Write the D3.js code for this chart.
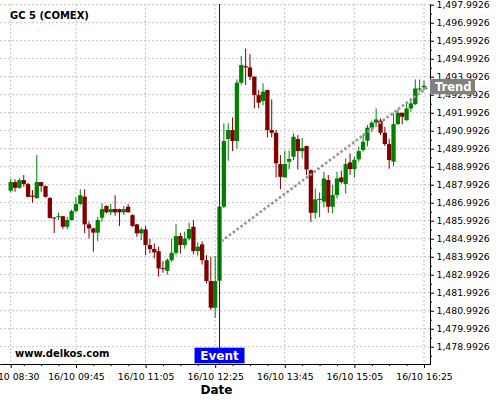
<!DOCTYPE html>
<html>
<head>
<meta charset="utf-8">
<script src="https://cdn.jsdelivr.net/npm/d3@7"></script>
<style>
  body { margin: 0; background: #fff; }
  svg { font-family: "DejaVu Sans", sans-serif; }
  .grid line { stroke: #c4c4c4; stroke-dasharray: 2,2; }
</style>
</head>
<body>
<div class="chart"></div>
<script>
//chart size
var widthSVG = 500;
var heightSVG = 400;
var plotLeft = 0, plotRight = 430, plotTop = 4, plotBottom = 364;

// 5 minute bars, first one at 08:30
var firstBar = "08:30";
var barMinutes = 5;
var opens = [
 1487.66,1488.14,1487.82,1488.25,1488.03,1487.39,1487.25,1488.14,1487.92,1487.25,
 1486.17,1486.20,1486.24,1485.66,1486.03,1486.53,1486.92,1487.33,1485.79,1485.57,
 1485.33,1486.16,1486.81,1486.46,1486.64,1486.64,1486.46,1486.77,1486.30,1485.79,
 1485.29,1485.51,1484.64,1484.42,1484.30,1483.36,1483.21,1483.80,1484.21,1485.14,
 1484.64,1485.00,1485.66,1484.30,1484.68,1483.80,1482.64,1481.16,1482.66,1486.77,
 1490.53,1491.03,1490.42,1493.66,1494.58,1494.51,1493.99,1492.97,1492.64,1493.25,
 1491.03,1490.88,1489.14,1488.40,1489.27,1489.55,1490.53,1489.86,1490.14,1488.80,
 1486.43,1487.14,1487.05,1488.25,1486.77,1487.42,1488.40,1488.03,1489.23,1488.86,
 1489.40,1489.92,1490.44,1491.16,1491.44,1491.55,1490.88,1490.25,1489.27,1491.36,
 1491.99,1491.58,1492.23,1492.47,1493.29,1493.40];
var highs = [
 1488.32,1488.29,1488.36,1488.53,1488.10,1487.70,1489.64,1488.14,1487.95,1487.32,
 1486.20,1486.45,1486.26,1486.21,1486.62,1487.29,1487.74,1487.74,1485.95,1485.60,
 1486.20,1486.96,1486.85,1486.92,1487.41,1486.66,1486.81,1486.92,1486.35,1485.82,
 1485.62,1485.70,1484.99,1484.73,1484.55,1483.75,1483.90,1485.00,1485.80,1485.32,
 1485.38,1485.88,1486.03,1484.79,1484.84,1484.08,1483.99,1484.03,1486.80,1491.40,
 1491.40,1491.73,1493.84,1495.14,1495.56,1495.25,1494.02,1493.25,1493.62,1493.27,
 1492.73,1491.03,1489.64,1489.88,1489.90,1490.85,1490.75,1490.60,1490.16,1488.84,
 1487.79,1487.57,1488.71,1488.53,1487.98,1488.71,1488.77,1489.45,1489.73,1489.55,
 1490.10,1490.84,1491.31,1491.55,1492.23,1491.68,1491.21,1490.55,1491.95,1492.18,
 1491.99,1492.55,1492.79,1493.84,1493.84,1493.77];
var lows = [
 1487.58,1487.60,1487.77,1487.88,1487.30,1487.00,1487.21,1487.60,1487.28,1486.12,
 1485.31,1486.03,1485.53,1485.51,1485.99,1486.45,1486.85,1485.30,1485.01,1484.27,
 1484.86,1485.93,1486.40,1486.31,1486.27,1485.70,1486.31,1486.45,1485.66,1485.10,
 1484.92,1484.08,1484.18,1483.90,1482.88,1483.10,1483.00,1483.70,1484.08,1484.17,
 1484.44,1484.90,1484.12,1484.05,1483.56,1482.51,1481.03,1480.60,1482.60,1486.70,
 1489.32,1489.86,1490.01,1493.55,1493.53,1493.80,1492.23,1492.23,1492.40,1490.62,
 1490.62,1488.40,1487.75,1488.38,1488.84,1489.36,1488.84,1489.45,1488.53,1485.92,
 1486.10,1486.18,1486.73,1486.43,1486.40,1487.23,1488.06,1487.51,1488.53,1488.40,
 1489.27,1489.82,1490.12,1490.92,1491.31,1490.75,1490.14,1488.88,1489.03,1491.31,
 1491.36,1491.53,1492.05,1492.42,1493.16,1493.25];
var closes = [
 1488.14,1487.82,1488.25,1488.03,1487.32,1487.32,1488.14,1487.92,1487.32,1486.14,
 1486.14,1486.25,1485.66,1486.03,1486.53,1486.92,1487.41,1485.79,1485.57,1485.33,
 1486.03,1486.64,1486.46,1486.64,1486.46,1486.46,1486.64,1486.46,1485.70,1485.29,
 1485.51,1484.64,1484.42,1484.23,1483.34,1483.32,1483.80,1484.21,1485.14,1484.64,
 1485.00,1485.53,1484.30,1484.55,1483.80,1482.64,1481.16,1482.64,1486.77,1490.42,
 1491.03,1490.42,1493.66,1494.64,1494.51,1493.99,1492.97,1492.55,1493.16,1491.03,
 1490.88,1489.18,1488.43,1489.14,1489.42,1490.66,1489.86,1490.03,1488.84,1486.43,
 1487.18,1487.21,1488.34,1486.77,1487.42,1488.34,1488.14,1489.14,1488.86,1489.38,
 1489.86,1490.38,1491.16,1491.44,1491.62,1490.88,1490.25,1489.36,1491.36,1491.99,
 1491.77,1492.23,1492.51,1493.34,1493.34,1493.49];

// axis ticks
var xTickTimes = ["08:30","09:45","11:05","12:25","13:45","15:05","16:25"];
var xMinorTimes = ["08:45","09:05","09:25","10:05","10:25","10:45","11:25","11:45","12:05",
                   "12:45","13:05","13:25","14:05","14:25","14:45","15:25","15:45","16:05"];
var yTickValues = [1478.9926,1479.9926,1480.9926,1481.9926,1482.9926,1483.9926,1484.9926,
                   1485.9926,1486.9926,1487.9926,1488.9926,1489.9926,1490.9926,1491.9926,
                   1492.9926,1493.9926,1494.9926,1495.9926,1496.9926,1497.9926];
var xDomainTimes = ["08:17:42","16:31:54"];
var yDomain = [1478.0326, 1498.0326];

// event and trend
var eventTime = "12:30";
var eventLabel = "Event";
var trendTimes = ["12:32","16:30"];
var trendValues = [1484.85, 1493.44];
var trendLabel = "Trend";

var titleText = "GC 5 (COMEX)";
var dayLabel = "16/10";

var parseTime = d3.timeParse("%H:%M");
var parseTimeSec = d3.timeParse("%H:%M:%S");

//building the bars
var start = parseTime(firstBar);
var dataset = opens.map(function(o, i) {
	return {
		Date: d3.timeMinute.offset(start, i * barMinutes),
		Open: o, High: highs[i], Low: lows[i], Close: closes[i]
	};
});

var xScale = d3.scaleTime()
	.domain(xDomainTimes.map(parseTimeSec))
	.range([plotLeft, plotRight]);

var yScale = d3.scaleLinear()
	.domain(yDomain)
	.range([plotBottom, plotTop]);

var svg = d3.select(".chart")
	.append("svg")
	.attr("width", widthSVG)
	.attr("height", heightSVG);

svg.append("rect")
	.attr("width", widthSVG)
	.attr("height", heightSVG)
	.attr("fill", "#fff");

//grid lines
var grid = svg.append("g").attr("class", "grid");
grid.selectAll(".hgrid").data(yTickValues).enter()
	.append("line")
	.attr("x1", plotLeft).attr("x2", plotRight)
	.attr("y1", function(d) { return yScale(d); })
	.attr("y2", function(d) { return yScale(d); });
grid.selectAll(".vgrid").data(xTickTimes).enter()
	.append("line")
	.attr("x1", function(d) { return xScale(parseTime(d)); })
	.attr("x2", function(d) { return xScale(parseTime(d)); })
	.attr("y1", plotTop).attr("y2", plotBottom);

//title
svg.append("text")
	.attr("x", 10)
	.attr("y", 19)
	.style("font-size", "10px")
	.style("font-weight", "bold")
	.text(titleText);

//candles
var barWidth = 4.3;
var colorOf = function(d) { return d.Close >= d.Open ? "#008000" : "#800000"; };
var candles = svg.append("g").selectAll(".candle").data(dataset).enter()
	.append("g")
	.attr("class", "candle");

candles.append("line")
	.attr("x1", function(d) { return xScale(d.Date); })
	.attr("x2", function(d) { return xScale(d.Date); })
	.attr("y1", function(d) { return yScale(d.High); })
	.attr("y2", function(d) { return yScale(d.Low); })
	.attr("stroke", colorOf)
	.attr("stroke-width", 1);

candles.append("rect")
	.attr("x", function(d) { return xScale(d.Date) - barWidth / 2; })
	.attr("width", barWidth)
	.attr("y", function(d) { return yScale(Math.max(d.Open, d.Close)); })
	.attr("height", function(d) {
		return Math.max(1, Math.abs(yScale(d.Open) - yScale(d.Close)));
	})
	.attr("fill", colorOf);

//trend line (dotted)
var trendLine = d3.line()
	.x(function(d) { return xScale(parseTime(d[0])); })
	.y(function(d) { return yScale(d[1]); });

svg.append("path")
	.datum(d3.zip(trendTimes, trendValues))
	.attr("d", trendLine)
	.attr("fill", "none")
	.attr("stroke", "#969696")
	.attr("stroke-width", 2.6)
	.attr("stroke-dasharray", "2.6,2.2");

//event marker
var eventX = xScale(parseTime(eventTime));
svg.append("line")
	.attr("x1", eventX).attr("x2", eventX)
	.attr("y1", plotTop).attr("y2", plotBottom)
	.attr("stroke", "#0000ff")
	.attr("stroke-width", 1);

//watermark
svg.append("text")
	.attr("x", 15)
	.attr("y", 356.5)
	.style("font-size", "10px")
	.style("font-weight", "bold")
	.text("www.delkos.com");

svg.append("rect")
	.attr("x", eventX - 25)
	.attr("y", plotBottom - 16.3)
	.attr("width", 50)
	.attr("height", 15.6)
	.attr("fill", "#0000ff");
svg.append("text")
	.attr("x", eventX)
	.attr("y", 360)
	.attr("text-anchor", "middle")
	.attr("fill", "#fff")
	.style("font-size", "12px")
	.style("font-weight", "bold")
	.text(eventLabel);

//axes
var y_axis = d3.axisRight(yScale)
	.tickValues(yTickValues)
	.tickFormat(d3.format(",.4f"))
	.tickSize(4)
	.tickSizeOuter(0)
	.tickPadding(2.5);
svg.append("g")
	.attr("transform", "translate(" + plotRight + ",0)")
	.call(y_axis);

//minor ticks on y
var y_minor = d3.axisRight(yScale)
	.tickValues(yTickValues.map(function(v) { return v - 0.5; }))
	.tickSize(2)
	.tickSizeOuter(0)
	.tickFormat("");
svg.append("g")
	.attr("transform", "translate(" + plotRight + ",0)")
	.call(y_minor);

var x_axis = d3.axisBottom(xScale)
	.tickValues(xTickTimes.map(parseTime))
	.tickFormat(function(d) { return dayLabel + " " + d3.timeFormat("%H:%M")(d); })
	.tickSize(4)
	.tickSizeOuter(0)
	.tickPadding(5.5);
svg.append("g")
	.attr("transform", "translate(0," + plotBottom + ")")
	.call(x_axis);

var x_minor = d3.axisBottom(xScale)
	.tickValues(xMinorTimes.map(parseTime))
	.tickSize(2)
	.tickSizeOuter(0)
	.tickFormat("");
svg.append("g")
	.attr("transform", "translate(0," + plotBottom + ")")
	.call(x_minor);

svg.selectAll(".tick text")
	.style("font-family", "DejaVu Sans")
	.style("font-size", "9.3px")
	.attr("fill", "#000");
svg.selectAll(".domain, .tick line").attr("stroke", "#000");

//x axis label
svg.append("text")
	.attr("x", 216.5)
	.attr("y", 394)
	.attr("text-anchor", "middle")
	.style("font-size", "12px")
	.style("font-weight", "bold")
	.text("Date");

//trend label box on the axis
var trendY = yScale(trendValues[1]);
svg.append("rect")
	.attr("x", plotRight)
	.attr("y", trendY - 7.7)
	.attr("width", 45)
	.attr("height", 15.3)
	.attr("fill", "#808080");
svg.append("text")
	.attr("x", plotRight + 5)
	.attr("y", trendY + 4.3)
	.attr("fill", "#fff")
	.style("font-size", "11.5px")
	.style("font-weight", "bold")
	.text(trendLabel);
</script>
</body>
</html>
